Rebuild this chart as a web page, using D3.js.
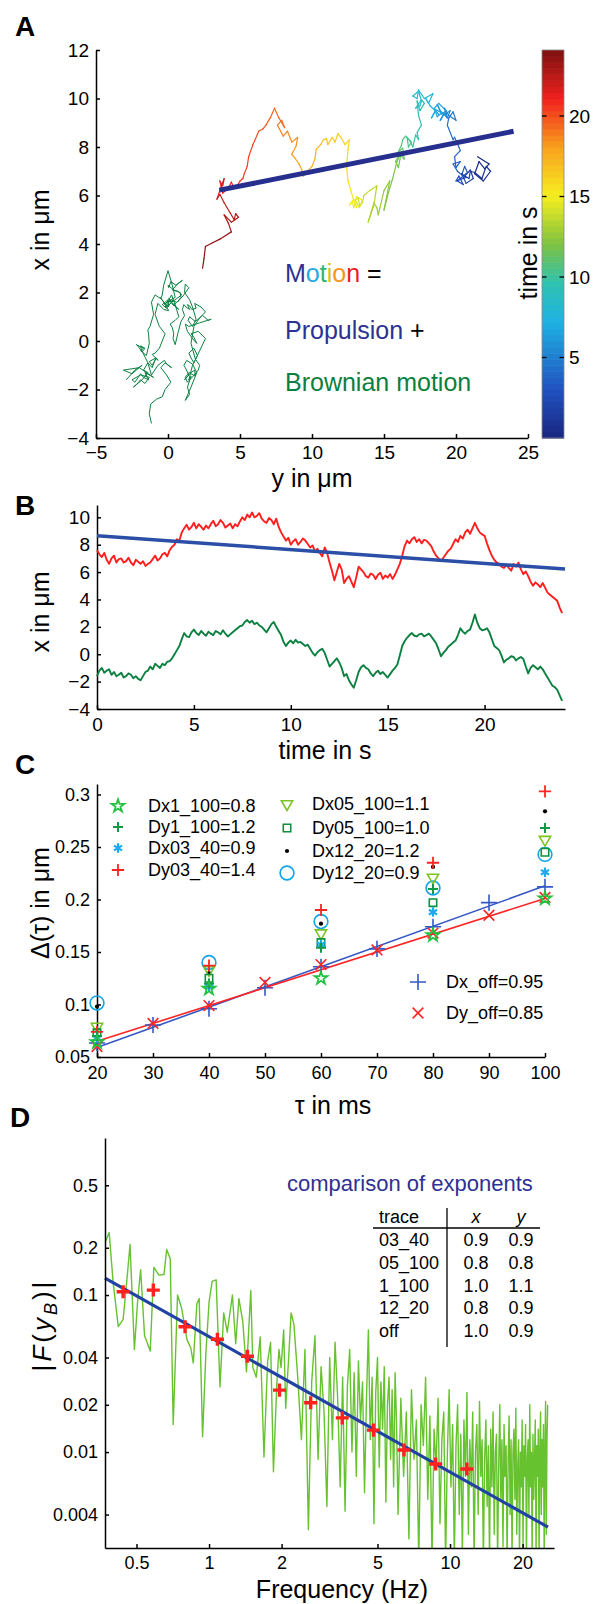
<!DOCTYPE html>
<html>
<head>
<meta charset="utf-8">
<script src="https://cdn.jsdelivr.net/npm/d3@7"></script>
<style>
  body { margin: 0; background: #fff; }
  svg { display: block; }
</style>
</head>
<body>
<script>
'use strict';

// ---- panel A / B : trajectory, sampled every 0.125 s (one row = 1 s) ----
const motionX = [
  7.6, 7.3, 7.1, 7.4, 6.9, 6.6, 7.0, 7.2,
  6.7, 6.95, 7.0, 6.7, 6.8, 7.05, 6.7, 6.5,
  6.9, 6.75, 6.6, 6.8, 6.45, 6.6, 6.7, 6.95,
  7.2, 6.85, 7.0, 7.3, 7.4, 7.15, 7.6, 7.85,
  8.0, 8.4, 8.3, 8.9, 9.2, 9.45, 9.1, 9.3,
  9.6, 9.2, 9.5, 9.3, 9.1, 9.4, 9.2, 9.5,
  9.75, 9.35, 9.5, 9.8, 9.6, 9.25, 9.4, 9.55,
  9.2, 9.5, 9.35, 9.7, 10.0, 9.8, 10.2, 10.0,
  10.35, 10.0, 10.1, 10.3, 9.9, 9.7, 9.6, 9.95,
  9.8, 9.5, 9.9, 9.3, 8.9, 8.6, 8.3, 8.5,
  8.0, 8.25, 8.4, 8.0, 8.2, 8.45, 8.3, 8.05,
  7.8, 7.95, 7.5, 7.7, 7.4, 7.15, 7.8, 7.4,
  6.7, 6.1, 5.4, 6.0, 6.6, 6.2, 5.2, 5.5,
  5.7, 5.3, 4.9, 5.6, 6.4, 6.2, 6.0, 5.7,
  5.6, 5.9, 5.8, 5.5, 5.8, 5.95, 5.5, 5.75,
  5.6, 5.85, 5.5, 5.8, 6.2, 6.6, 7.2, 7.9,
  8.3, 8.1, 8.4, 8.55, 8.2, 8.4, 8.1, 8.35,
  8.3, 8.1, 7.9, 7.5, 7.2, 7.0, 6.8, 7.05,
  7.3, 7.55, 7.7, 8.05, 8.4, 8.2, 8.65, 8.45,
  8.9, 9.1, 8.8, 9.2, 9.6, 9.2, 8.9, 8.75,
  8.65, 8.1, 7.6, 7.2, 6.9, 6.7, 6.6, 6.4,
  6.3, 6.55, 6.3, 6.1, 6.6, 6.4, 6.7, 6.2,
  5.85, 6.05, 5.7, 5.3, 5.0, 5.25, 5.1, 4.9,
  5.2, 4.85, 4.5, 4.35, 4.2, 4.05, 3.9, 3.4,
  3.0,
];
const motionY = [
  21.5, 22.3, 22.0, 21.6, 21.3, 21.9, 22.4, 22.1,
  21.8, 21.3, 21.0, 20.9, 20.6, 21.0, 21.2, 20.7,
  20.4, 20.7, 20.0, 20.2, 20.5, 20.1, 20.3, 20.8,
  20.6, 20.4, 20.1, 19.8, 20.3, 20.0, 19.9, 20.3,
  20.2, 19.9, 19.8, 19.4, 19.5, 19.8, 20.0, 19.5,
  19.2, 19.4, 19.6, 19.1, 18.9, 19.2, 19.4, 18.9,
  18.7, 19.0, 19.3, 18.8, 18.5, 18.7, 19.0, 18.6,
  18.3, 18.6, 18.8, 18.2, 17.9, 18.1, 18.4, 17.8,
  17.4, 17.3, 17.0, 17.4, 17.6, 17.5, 17.2, 17.6,
  17.8, 17.5, 17.3, 17.4, 17.6, 17.3, 17.4, 17.2,
  17.0, 16.8, 16.6, 16.7, 16.9, 16.5, 16.3, 16.2,
  16.0, 16.3, 16.4, 16.1, 15.8, 16.0, 16.2, 15.9,
  15.6, 15.3, 15.0, 15.2, 15.4, 15.0, 14.6, 14.5,
  14.3, 14.1, 13.9, 14.3, 14.5, 14.0, 13.6, 13.5,
  13.3, 13.2, 13.0, 13.3, 13.5, 13.1, 12.9, 12.8,
  12.6, 12.9, 13.1, 12.9, 12.7, 12.5, 12.4, 12.5,
  12.6, 12.3, 12.0, 11.8, 11.6, 11.4, 11.1, 11.0,
  10.8, 10.6, 10.3, 10.2, 10.0, 9.7, 9.4, 9.3,
  9.1, 8.8, 8.6, 8.9, 9.0, 8.6, 8.3, 8.0,
  7.6, 7.9, 8.1, 7.7, 7.4, 7.1, 6.8, 6.6,
  6.3, 5.9, 5.6, 5.5, 5.3, 5.2, 5.0, 4.8,
  4.6, 4.4, 4.2, 3.8, 3.6, 3.8, 3.9, 3.6,
  3.4, 3.6, 3.9, 4.3, 4.6, 4.7, 4.9, 4.4,
  3.9, 4.2, 4.4, 4.0, 3.6, 3.1, 2.6, 2.5,
  2.4,
];
const brownianX = [
  -1.6, -1.2, -1.0, -1.35, -1.2, -1.1, -1.5, -1.3,
  -1.6, -1.5, -1.35, -1.7, -1.6, -1.4, -1.5, -1.75,
  -1.6, -1.8, -1.9, -1.6, -1.3, -1.2, -0.9, -1.1,
  -0.7, -0.85, -1.0, -0.7, -0.8, -0.55, -0.5, -0.3,
  0.0, 0.3, 0.6, 1.1, 1.55, 1.3, 1.25, 1.6,
  1.8, 1.55, 1.4, 1.7, 1.5, 1.35, 1.65, 1.5,
  1.4, 1.7, 1.6, 1.45, 1.75, 1.5, 1.3, 1.45,
  1.6, 1.75, 1.9, 2.05, 2.1, 2.35, 2.5, 2.3,
  2.45, 2.2, 2.3, 2.1, 2.0, 1.8, 1.6, 1.9,
  2.2, 2.35, 2.0, 1.7, 1.4, 0.9, 0.6, 0.85,
  1.0, 0.8, 1.05, 0.85, 0.9, 0.75, 0.6, 0.7,
  0.4, 0.1, -0.1, 0.15, 0.3, 0.4, 0.1, -0.4,
  -0.9, -0.7, -0.5, -0.3, -0.6, -1.0, -1.6, -1.45,
  -1.9, -2.2, -2.45, -1.9, -1.3, -0.95, -0.8, -1.0,
  -1.1, -1.4, -1.6, -1.35, -1.2, -1.45, -1.3, -1.5,
  -1.7, -1.45, -1.2, -1.0, -0.75, -0.1, 0.6, 0.95,
  1.2, 1.4, 1.55, 1.35, 1.3, 1.45, 1.5, 1.3,
  1.4, 1.5, 1.3, 1.05, 0.8, 0.35, -0.15, 0.1,
  0.3, 0.55, 0.7, 0.85, 1.0, 1.4, 1.9, 1.65,
  1.5, 1.7, 1.8, 2.3, 2.9, 2.3, 1.9, 1.75,
  1.8, 1.9, 1.6, 1.1, 0.6, 0.45, 0.3, -0.1,
  -0.6, -0.4, -0.3, -0.15, -0.2, -0.45, -0.3, -0.2,
  -0.35, -0.9, -1.4, -1.0, -0.8, -0.95, -1.1, -0.9,
  -1.1, -1.4, -1.7, -2.0, -2.3, -2.4, -2.6, -3.0,
  -3.4,
];
const brownianY = [
  -2.9, -2.3, -1.8, -2.5, -3.1, -2.0, -1.0, -1.6,
  -1.35, -1.7, -1.9, -2.3, -2.5, -1.9, -1.3, -1.6,
  -1.9, -2.2, -2.4, -1.8, -1.4, -1.7, -1.4, -1.1,
  -0.85, -1.3, -1.1, -0.8, -0.7, -1.1, -0.9, -0.6,
  -0.4, -0.2, -0.6, -0.9, -0.7, -0.3, 0.05, -0.3,
  -0.55, -0.2, 0.05, 0.0, -0.4, -0.1, 0.3, 0.1,
  -0.2, 0.2, 0.6, 0.4, 0.05, 0.35, 0.75, 0.5,
  0.25, 0.6, 0.95, 0.7, 0.3, 0.65, 1.0, 0.55,
  0.2, 0.05, 0.0, 0.4, 0.85, 0.9, 0.65, 1.1,
  1.45, 1.2, 1.15, 1.5, 1.7, 1.95, 1.7, 1.4,
  1.5, 1.9, 2.4, 2.8, 3.0, 2.2, 1.45, 1.2,
  1.35, 1.7, 2.0, 1.8, 1.6, 2.1, 2.6, 2.2,
  1.8, 1.6, 1.45, 1.8, 2.05, 1.7, 1.45, 1.6,
  1.35, 1.5, 1.2, 1.6, 2.0, 1.7, 1.3, 1.1,
  1.2, 1.45, 1.15, 1.5, 1.85, 1.9, 1.45, 1.2,
  1.35, 1.75, 2.1, 2.2, 1.9, 1.6, 1.8, 2.2,
  2.6, 2.3, 1.85, 1.95, 1.65, 1.5, 1.35, 1.5,
  1.25, 1.1, 1.0, 1.15, 0.9, 0.7, 0.5, 0.35,
  0.4, 0.3, 0.15, 0.5, 0.75, 0.55, 0.25, 0.0,
  -0.25, 0.2, 0.5, 0.3, 0.0, -0.3, -0.4, -0.5,
  -0.65, -0.9, -1.15, -1.0, -1.25, -1.4, -1.35, -1.3,
  -1.5, -1.9, -1.7, -2.2, -2.1, -1.8, -1.6, -1.9,
  -1.85, -1.4, -1.15, -0.7, -0.25, -0.1, 0.25, -0.2,
  -0.5, -0.1, 0.2, -0.2, -0.4, -0.8, -1.2, -1.3,
  -1.15,
];
const sampleStep = 0.125;
const timeS = d3.range(motionX.length).map(i => i * sampleStep);

// propulsion line: values at t = 0 and t = end
const propulsionT = [0, 24.15];
const propulsionX = [8.65, 6.22];
const propulsionY = [24.0, 3.57];

const xTicksA = [-5, 0, 5, 10, 15, 20, 25];
const yTicksA = [-4, -2, 0, 2, 4, 6, 8, 10, 12];
const colorbarTicks = [5, 10, 15, 20];
const xTicksB = [0, 5, 10, 15, 20];
const yTicksB = [-4, -2, 0, 2, 4, 6, 8, 10];

// ---- panel C ----
const tauC = [20, 40, 60, 80, 100];
const dx1_100 = [0.064, 0.115, 0.125, 0.166, 0.201];
const dy1_100 = [0.070, 0.120, 0.154, 0.210, 0.268];
const dx03_40 = [0.068, 0.117, 0.157, 0.188, 0.226];
const dy03_40 = [0.074, 0.137, 0.190, 0.235, 0.303];
const dx05_100 = [0.079, 0.133, 0.168, 0.221, 0.257];
const dy05_100 = [0.073, 0.125, 0.159, 0.197, 0.245];
const dx12_20 = [0.098, 0.130, 0.177, 0.231, 0.284];
const dy12_20 = [0.1015, 0.140, 0.179, 0.211, 0.243];
const legendC = ['Dx1_100=0.8', 'Dy1_100=1.2', 'Dx03_40=0.9', 'Dy03_40=1.4',
  'Dx05_100=1.1', 'Dy05_100=1.0', 'Dx12_20=1.2', 'Dy12_20=0.9'];

const tauOff = [20, 30, 40, 50, 60, 70, 80, 90, 100];
const dxOff = [0.0634, 0.0805, 0.096, 0.116, 0.136, 0.153, 0.174, 0.197, 0.212];
const dyOff = [0.060, 0.082, 0.099, 0.121, 0.138, 0.152, 0.168, 0.185, 0.202];
const fitTau = [20, 100];
const dxFit = [0.059, 0.213];
const dyFit = [0.065, 0.201];
const legendOff = ['Dx_off=0.95', 'Dy_off=0.85'];
const xTicksC = [20, 30, 40, 50, 60, 70, 80, 90, 100];
const yTicksC = [0.05, 0.1, 0.15, 0.2, 0.25, 0.3];

// ---- panel D ----
const specLowF = [0.37, 0.385, 0.40, 0.42, 0.44, 0.455, 0.47, 0.49, 0.505, 0.52,
  0.54, 0.57, 0.59, 0.62, 0.65, 0.667, 0.69, 0.71, 0.74, 0.77,
  0.81, 0.84, 0.86, 0.89, 0.91, 0.94, 0.97, 1.0, 1.03, 1.07,
  1.11, 1.15, 1.19, 1.25, 1.29, 1.33, 1.38, 1.43, 1.49, 1.52,
  1.57, 1.63, 1.69, 1.75, 1.8, 1.85, 1.91, 1.95, 1.99, 2.04,
  2.08, 2.14, 2.19, 2.25];
const specLowAmp = [0.215, 0.25, 0.12, 0.063, 0.07, 0.12, 0.21, 0.045, 0.09, 0.145,
  0.055, 0.044, 0.15, 0.134, 0.135, 0.195, 0.17, 0.015, 0.1, 0.082,
  0.052, 0.046, 0.037, 0.088, 0.095, 0.0125, 0.0425, 0.09, 0.122, 0.125,
  0.026, 0.077, 0.058, 0.1, 0.049, 0.095, 0.068, 0.0325, 0.107, 0.0345,
  0.03, 0.054, 0.0093, 0.038, 0.05, 0.0075, 0.027, 0.045, 0.0345, 0.06,
  0.019, 0.04, 0.077, 0.065];
const specMidStart = 2.3333;
const specMidStep = 1 / 12;
const specMidAmp = [
  0.03, 0.012, 0.045, 0.0032, 0.028, 0.055, 0.009, 0.035, 0.018, 0.0045,
  0.04, 0.012, 0.05, 0.022, 0.006, 0.03, 0.0042, 0.026, 0.045, 0.01,
  0.032, 0.007, 0.038, 0.016, 0.028, 0.0055, 0.022, 0.06, 0.012, 0.03,
  0.0035, 0.024, 0.04, 0.008, 0.028, 0.014, 0.035, 0.0048, 0.02, 0.03,
  0.009, 0.025, 0.006, 0.032, 0.015];
const specHighStart = 6.0833;
const specHighStep = 1 / 6;
const specHighAmp = [
  0.004, 0.022, 0.007, 0.018, 0.0028, 0.025, 0.009, 0.016, 0.002, 0.02,
  0.011, 0.03, 0.005, 0.017, 0.002, 0.014, 0.008, 0.022, 0.0035, 0.012,
  0.018, 0.002, 0.01, 0.025, 0.006, 0.015, 0.002, 0.011, 0.02, 0.004,
  0.013, 0.0022, 0.016, 0.007, 0.024, 0.003, 0.012, 0.006, 0.018, 0.002,
  0.01, 0.015, 0.004, 0.021, 0.007, 0.012, 0.002, 0.009, 0.016, 0.0045,
  0.011, 0.002, 0.014, 0.006, 0.018, 0.003, 0.01, 0.013, 0.002, 0.008,
  0.02, 0.005, 0.012, 0.0025, 0.015, 0.007, 0.011, 0.002, 0.009, 0.017,
  0.004, 0.012, 0.0022, 0.01, 0.014, 0.005, 0.019, 0.003, 0.008, 0.012,
  0.002, 0.01, 0.006, 0.016, 0.0025, 0.011, 0.007, 0.015, 0.002, 0.009,
  0.012, 0.004, 0.02, 0.006, 0.01, 0.002, 0.013, 0.005, 0.009, 0.016,
  0.0022, 0.011, 0.007, 0.014, 0.002, 0.01, 0.018, 0.004, 0.012, 0.006,
  0.015, 0.002, 0.01, 0.021, 0.003, 0.012, 0.02];
const fitF = [0.37, 25.5];
const fitAmp = [0.128, 0.00333];
const binF = [0.44, 0.587, 0.795, 1.083, 1.443, 1.96, 2.64, 3.57, 4.81, 6.44, 8.72, 11.74];
const binAmp = [0.105, 0.1075, 0.0628, 0.0523, 0.0408, 0.0248, 0.0206, 0.0165, 0.0138, 0.0103, 0.0084, 0.0078];
const xTicksD = [0.5, 1, 2, 5, 10, 20];
const yTicksD = [0.004, 0.01, 0.02, 0.04, 0.1, 0.2, 0.5];
const tableTraces = ['03_40', '05_100', '1_100', '12_20', 'off'];
const tableX = ['0.9', '0.8', '1.0', '0.8', '1.0'];
const tableY = ['0.9', '0.8', '1.1', '0.9', '0.9'];

// ---------------------------------------------------------------------------

const FONT = '"Liberation Sans", Arial, Helvetica, sans-serif';
const NAVY = '#2e3192';
const DARKGREEN = '#0b8040';

const svg = d3.select('body').append('svg')
  .attr('width', 594)
  .attr('height', 1604)
  .attr('font-family', FONT);

const jet = d3.scaleLinear()
  .domain([0, 0.125, 0.3, 0.4, 0.5, 0.625, 0.75, 0.875, 1].map(f => f * 24.1))
  .range(['#1a2680', '#2051c0', '#1fb2e3', '#2fc2b0', '#7ec241', '#f6ee1f', '#f9a11d', '#f0211f', '#7e1010'])
  .interpolate(d3.interpolateRgb);

function addAxis(g, gen, pos, horizontal, size, pad) {
  const a = g.append('g')
    .attr('transform', horizontal ? `translate(0,${pos})` : `translate(${pos},0)`)
    .call(gen.tickSizeInner(-4).tickSizeOuter(0).tickPadding(pad));
  a.attr('font-family', null).attr('font-size', size);
  a.select('.domain').attr('stroke-width', 1.5);
  a.selectAll('.tick line').attr('stroke-width', 1.5);
  a.selectAll('text').attr('fill', '#000');
  return a;
}

function label(g, text, x, y, size, rotate) {
  return g.append('text')
    .attr('transform', `translate(${x},${y})` + (rotate ? ' rotate(-90)' : ''))
    .attr('text-anchor', 'middle')
    .attr('dy', '0.35em')
    .attr('font-size', size)
    .text(text);
}

function panelLetter(t, x, y) {
  svg.append('text').attr('x', x).attr('y', y)
    .attr('font-size', 28).attr('font-weight', 'bold').text(t);
}

// stroke-only symbols
const plusType = { draw(c, s) { const r = Math.sqrt(s) / 2; c.moveTo(-r, 0); c.lineTo(r, 0); c.moveTo(0, -r); c.lineTo(0, r); } };
const timesType = { draw(c, s) { const r = Math.sqrt(s) * 0.36; c.moveTo(-r, -r); c.lineTo(r, r); c.moveTo(-r, r); c.lineTo(r, -r); } };
const asteriskType = {
  draw(c, s) {
    const r = Math.sqrt(s) / 2;
    for (let k = 0; k < 3; k++) {
      const a = Math.PI / 2 + k * Math.PI / 3;
      c.moveTo(-r * Math.cos(a), -r * Math.sin(a));
      c.lineTo(r * Math.cos(a), r * Math.sin(a));
    }
  },
};

// ============================ A ============================
const xA = d3.scaleLinear().domain([-5, 25]).range([96, 528]);
const yA = d3.scaleLinear().domain([-4, 12]).range([438, 50]);
const gA = svg.append('g');

addAxis(gA, d3.axisBottom(xA).tickValues(xTicksA), 438, true, 19, 8);
addAxis(gA, d3.axisLeft(yA).tickValues(yTicksA), 96, false, 19, 7);

gA.append('path')
  .attr('d', d3.line()(brownianY.map((v, i) => [xA(v), yA(brownianX[i])])))
  .attr('fill', 'none')
  .attr('stroke', DARKGREEN)
  .attr('stroke-width', 1)
  .attr('stroke-linejoin', 'round');

gA.selectAll('.seg')
  .data(d3.range(motionX.length - 1))
  .join('line')
  .attr('class', 'seg')
  .attr('x1', i => xA(motionY[i]))
  .attr('y1', i => yA(motionX[i]))
  .attr('x2', i => xA(motionY[i + 1]))
  .attr('y2', i => yA(motionX[i + 1]))
  .attr('stroke', i => jet(timeS[i] + sampleStep / 2))
  .attr('stroke-width', 1.2)
  .attr('stroke-linecap', 'round');

gA.append('line')
  .attr('x1', xA(propulsionY[0])).attr('y1', yA(propulsionX[0]))
  .attr('x2', xA(propulsionY[1])).attr('y2', yA(propulsionX[1]))
  .attr('stroke', '#262f8e')
  .attr('stroke-width', 5);

// colorbar
const cb = d3.scaleLinear().domain([0, 24.1]).range([438, 50]);
const nBands = 64;
gA.selectAll('.band')
  .data(d3.range(nBands))
  .join('rect')
  .attr('class', 'band')
  .attr('x', 542)
  .attr('width', 22)
  .attr('y', k => cb((k + 1) * 24.1 / nBands))
  .attr('height', k => cb(k * 24.1 / nBands) - cb((k + 1) * 24.1 / nBands) + 0.6)
  .attr('fill', k => jet((k + 0.5) * 24.1 / nBands));
gA.append('rect')
  .attr('x', 542).attr('y', 50).attr('width', 22).attr('height', 388)
  .attr('fill', 'none').attr('stroke', '#888').attr('stroke-width', 0.8);
colorbarTicks.forEach(t => {
  gA.append('line').attr('x1', 542).attr('x2', 546.5).attr('y1', cb(t)).attr('y2', cb(t)).attr('stroke', '#000').attr('stroke-width', 1.3);
  gA.append('line').attr('x1', 559.5).attr('x2', 564).attr('y1', cb(t)).attr('y2', cb(t)).attr('stroke', '#000').attr('stroke-width', 1.3);
  gA.append('text').attr('x', 569).attr('y', cb(t)).attr('dy', '0.35em').attr('font-size', 19).text(t);
});

label(gA, 'time in s', 528, 253, 25, true);
label(gA, 'x in μm', 40, 230, 25, true);
label(gA, 'y in μm', 312, 478, 25, false);

const motion = gA.append('text').attr('x', 285).attr('y', 273).attr('dy', '0.35em').attr('font-size', 25);
[['M', NAVY], ['o', '#27a9e1'], ['t', '#2bb673'], ['i', '#cfc622'], ['o', '#f7941d'], ['n', '#ed1c24'], [' =', '#000']]
  .forEach(([s, c]) => motion.append('tspan').attr('fill', c).text(s));
const prop = gA.append('text').attr('x', 285).attr('y', 330).attr('dy', '0.35em').attr('font-size', 25);
prop.append('tspan').attr('fill', NAVY).text('Propulsion');
prop.append('tspan').attr('fill', '#000').text(' +');
gA.append('text').attr('x', 285).attr('y', 382).attr('dy', '0.35em').attr('font-size', 25)
  .attr('fill', DARKGREEN).text('Brownian motion');

panelLetter('A', 15, 36);

// ============================ B ============================
const xB = d3.scaleLinear().domain([0, 24.15]).range([97, 565]);
const yB = d3.scaleLinear().domain([-4, 10.9]).range([709, 505]);
const gB = svg.append('g');

addAxis(gB, d3.axisBottom(xB).tickValues(xTicksB), 709, true, 19, 9);
addAxis(gB, d3.axisLeft(yB).tickValues(yTicksB), 97, false, 19, 7);

const lineB = d3.line().x((d, i) => xB(timeS[i])).y(d => yB(d));
gB.append('path').attr('d', lineB(motionX))
  .attr('fill', 'none').attr('stroke', '#ff1f1f').attr('stroke-width', 1.9).attr('stroke-linejoin', 'round');
gB.append('path').attr('d', lineB(brownianX))
  .attr('fill', 'none').attr('stroke', DARKGREEN).attr('stroke-width', 1.9).attr('stroke-linejoin', 'round');
gB.append('line')
  .attr('x1', xB(propulsionT[0])).attr('y1', yB(propulsionX[0]))
  .attr('x2', xB(propulsionT[1])).attr('y2', yB(propulsionX[1]))
  .attr('stroke', '#2b4ea6').attr('stroke-width', 3.5);

label(gB, 'x in μm', 40, 612, 25, true);
label(gB, 'time in s', 325, 750, 25, false);
panelLetter('B', 15, 515);

// ============================ C ============================
const xC = d3.scaleLinear().domain([20, 100]).range([97, 545]);
const yC = d3.scaleLinear().domain([0.05, 0.31]).range([1057, 784]);
const gC = svg.append('g');

addAxis(gC, d3.axisBottom(xC).tickValues(xTicksC), 1057, true, 18, 9);
addAxis(gC, d3.axisLeft(yC).tickValues(yTicksC).tickFormat(d => String(d)), 97, false, 18, 7);

const cSeries = [
  { values: dx1_100, type: d3.symbolStar, size: 50, fill: 'none', stroke: '#22c13f', sw: 1.8, legend: [118, 806] },
  { values: dy1_100, type: plusType, size: 100, fill: 'none', stroke: '#0f9a48', sw: 2, legend: [118, 827] },
  { values: dx03_40, type: asteriskType, size: 90, fill: 'none', stroke: '#1eaaf0', sw: 2.2, legend: [118, 848] },
  { values: dy03_40, type: plusType, size: 150, fill: 'none', stroke: '#ff2424', sw: 1.8, legend: [118, 870] },
  { values: dx05_100, type: d3.symbolTriangle, size: 55, fill: 'none', stroke: '#7cc424', sw: 1.6, rot: 180, legend: [287, 804] },
  { values: dy05_100, type: d3.symbolSquare, size: 55, fill: 'none', stroke: '#0f9040', sw: 1.6, legend: [287, 828] },
  { values: dx12_20, type: d3.symbolCircle, size: 14, fill: '#000', stroke: 'none', sw: 0, legend: [287, 851] },
  { values: dy12_20, type: d3.symbolCircle, size: 150, fill: 'none', stroke: '#12a6e6', sw: 1.6, legend: [287, 873] },
];
const cLabelX = [148, 148, 148, 148, 312, 312, 312, 312];

function marker(g, s, x, y) {
  g.append('path')
    .attr('d', d3.symbol().type(s.type).size(s.size)())
    .attr('transform', `translate(${x},${y})` + (s.rot ? ` rotate(${s.rot})` : ''))
    .attr('fill', s.fill)
    .attr('stroke', s.stroke)
    .attr('stroke-width', s.sw);
}

const offBlue = { type: plusType, size: 260, fill: 'none', stroke: '#3558c4', sw: 1.6 };
const offRed = { type: timesType, size: 220, fill: 'none', stroke: '#ff2424', sw: 1.6 };

gC.append('line').attr('x1', xC(fitTau[0])).attr('y1', yC(dxFit[0])).attr('x2', xC(fitTau[1])).attr('y2', yC(dxFit[1]))
  .attr('stroke', '#3558c4').attr('stroke-width', 1.6);
gC.append('line').attr('x1', xC(fitTau[0])).attr('y1', yC(dyFit[0])).attr('x2', xC(fitTau[1])).attr('y2', yC(dyFit[1]))
  .attr('stroke', '#ff2424').attr('stroke-width', 1.6);
tauOff.forEach((t, i) => {
  marker(gC, offBlue, xC(t), yC(dxOff[i]));
  marker(gC, offRed, xC(t), yC(dyOff[i]));
});

[7, 6, 4, 5, 3, 2, 1, 0].forEach(k => {
  const s = cSeries[k];
  tauC.forEach((t, i) => marker(gC, s, xC(t), yC(s.values[i])));
});

cSeries.forEach((s, k) => {
  marker(gC, s, s.legend[0], s.legend[1]);
  gC.append('text').attr('x', cLabelX[k]).attr('y', s.legend[1]).attr('dy', '0.35em')
    .attr('font-size', 18).text(legendC[k]);
});
marker(gC, offBlue, 418, 982);
marker(gC, offRed, 418, 1013);
gC.append('text').attr('x', 446).attr('y', 982).attr('dy', '0.35em').attr('font-size', 18).text(legendOff[0]);
gC.append('text').attr('x', 446).attr('y', 1013).attr('dy', '0.35em').attr('font-size', 18).text(legendOff[1]);

label(gC, 'Δ(τ) in μm', 40, 903, 25, true);
label(gC, 'τ in ms', 333, 1105, 25, false);
panelLetter('C', 15, 774);

// ============================ D ============================
const xD = d3.scaleLog().domain([0.37, 27]).range([105, 554]);
const yD = d3.scaleLog().domain([0.00245, 1]).range([1548, 1138]);
const gD = svg.append('g');

svg.append('clipPath').attr('id', 'clipD')
  .append('rect').attr('x', 105).attr('y', 1138).attr('width', 449).attr('height', 410);

const spectrum = specLowF.map((f, i) => [f, specLowAmp[i]])
  .concat(specMidAmp.map((a, i) => [specMidStart + i * specMidStep, a]))
  .concat(specHighAmp.map((a, i) => [specHighStart + i * specHighStep, a]));

gD.append('path')
  .attr('clip-path', 'url(#clipD)')
  .attr('d', d3.line().x(d => xD(d[0])).y(d => yD(d[1]))(spectrum))
  .attr('fill', 'none')
  .attr('stroke', '#66c22e')
  .attr('stroke-width', 1.4)
  .attr('stroke-linejoin', 'round');

gD.append('line')
  .attr('x1', xD(fitF[0])).attr('y1', yD(fitAmp[0]))
  .attr('x2', xD(fitF[1])).attr('y2', yD(fitAmp[1]))
  .attr('stroke', '#2142a3').attr('stroke-width', 3.2);

const binMark = { type: plusType, size: 170, fill: 'none', stroke: '#ff2020', sw: 3.4 };
binF.forEach((f, i) => marker(gD, binMark, xD(f), yD(binAmp[i])));

addAxis(gD, d3.axisBottom(xD).tickValues(xTicksD).tickFormat(d => String(d)), 1548, true, 18, 8.5);
addAxis(gD, d3.axisLeft(yD).tickValues(yTicksD).tickFormat(d => String(d)), 105, false, 18, 7);

gD.append('text').attr('x', 287).attr('y', 1183).attr('dy', '0.35em')
  .attr('font-size', 22).attr('fill', NAVY).text('comparison of exponents');

const tbl = gD.append('g').attr('font-size', 18);
tbl.append('text').attr('x', 379).attr('y', 1217).attr('dy', '0.35em').text('trace');
tbl.append('text').attr('x', 476).attr('y', 1217).attr('dy', '0.35em').attr('text-anchor', 'middle').attr('font-style', 'italic').text('x');
tbl.append('text').attr('x', 521).attr('y', 1217).attr('dy', '0.35em').attr('text-anchor', 'middle').attr('font-style', 'italic').text('y');
tbl.append('line').attr('x1', 373).attr('x2', 540).attr('y1', 1228).attr('y2', 1228).attr('stroke', '#000').attr('stroke-width', 1.3);
tbl.append('line').attr('x1', 447).attr('x2', 447).attr('y1', 1208).attr('y2', 1347).attr('stroke', '#000').attr('stroke-width', 1.3);
tableTraces.forEach((t, i) => {
  const y = 1240 + i * 22.6;
  tbl.append('text').attr('x', 379).attr('y', y).attr('dy', '0.35em').text(t);
  tbl.append('text').attr('x', 476).attr('y', y).attr('dy', '0.35em').attr('text-anchor', 'middle').text(tableX[i]);
  tbl.append('text').attr('x', 521).attr('y', y).attr('dy', '0.35em').attr('text-anchor', 'middle').text(tableY[i]);
});

const fy = gD.append('text')
  .attr('transform', 'translate(42,1325) rotate(-90)')
  .attr('text-anchor', 'middle')
  .attr('dy', '0.35em')
  .attr('font-size', 26)
  .attr('letter-spacing', 3);
fy.append('tspan').text('|');
fy.append('tspan').attr('font-style', 'italic').text('F');
fy.append('tspan').text('(');
fy.append('tspan').attr('font-style', 'italic').text('y');
fy.append('tspan').attr('font-style', 'italic').attr('font-size', 18).attr('dy', '0.3em').text('B');
fy.append('tspan').attr('dy', '-0.22em').text(')|');

gD.append('text').attr('x', 342).attr('y', 1598).attr('text-anchor', 'middle')
  .attr('font-size', 25).text('Frequency (Hz)');
panelLetter('D', 10, 1127);
</script>
</body>
</html>
